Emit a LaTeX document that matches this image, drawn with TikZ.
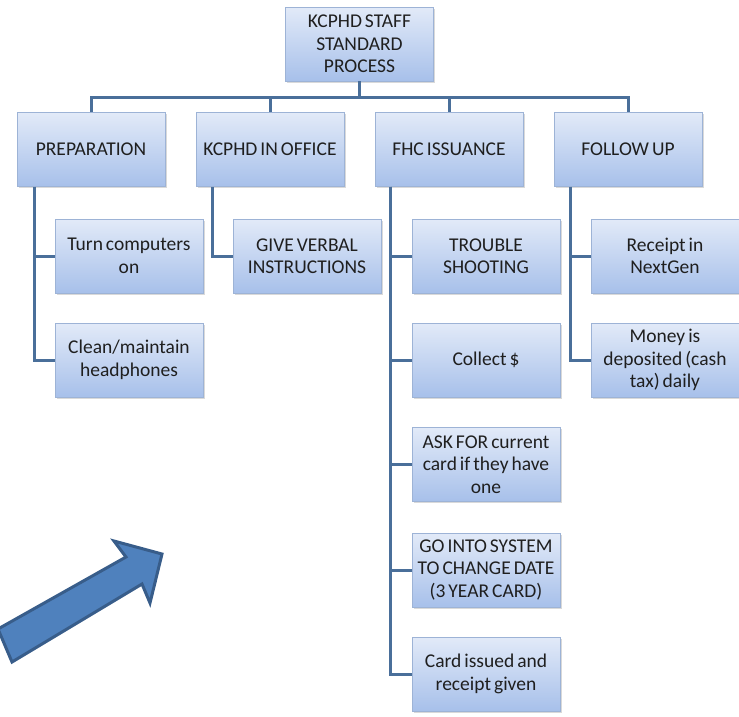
\documentclass[tikz,border=0pt]{standalone}
\usepackage{fontspec}
\setmainfont{Carlito}
\usetikzlibrary{shadows}
\newcommand{\myboxfont}{\fontsize{19.5}{22.5}\selectfont\spaceskip=3pt plus 1pt minus 0.5pt\relax\xspaceskip=3pt plus 1pt\relax}
\definecolor{boxtop}{HTML}{E2EAF8}
\definecolor{boxbot}{HTML}{A7C0EA}
\definecolor{boxline}{HTML}{9DB3D6}
\definecolor{conn}{HTML}{4A6F9A}
\definecolor{arrfill}{HTML}{4F81BD}
\definecolor{arrline}{HTML}{385D8A}
\definecolor{txt}{HTML}{1F1F1F}
\tikzset{
  box/.style={rectangle, draw=boxline, line width=0.8pt, top color=boxtop, bottom color=boxbot,
    minimum width=148pt, minimum height=74pt, inner sep=1pt, align=center,
    text=txt, font=\myboxfont,
    drop shadow={shadow xshift=1.5pt, shadow yshift=-1.5pt, opacity=0.25, fill=black!60}},
  conn/.style={draw=conn, line width=3pt},
}
\begin{document}
\begin{tikzpicture}[x=1pt,y=-1pt]
\useasboundingbox (0,0) rectangle (739,716);
% top
\node[box] (top) at (359.5,44) {KCPHD STAFF\\STANDARD\\PROCESS};
% level 2
\node[box] (prep) at (91,149.5) {PREPARATION};
\node[box] (office) at (270,149.5) {KCPHD IN OFFICE};
\node[box] (fhc) at (449,149.5) {FHC ISSUANCE};
\node[box] (follow) at (628,149.5) {FOLLOW UP};
% children
\node[box] (p1) at (129,256) {Turn computers\\on};
\node[box] (p2) at (129,360) {Clean/maintain\\headphones};
\node[box] (o1) at (307,256) {GIVE VERBAL\\INSTRUCTIONS};
\node[box] (f1) at (486,256) {TROUBLE\\SHOOTING};
\node[box] (f2) at (486,360) {Collect \$};
\node[box] (f3) at (486,464.5) {ASK FOR current\\card if they have\\one};
\node[box] (f4) at (486,570) {GO INTO SYSTEM\\TO CHANGE DATE\\(3 YEAR CARD)};
\node[box] (f5) at (486,674) {Card issued and\\receipt given};
\node[box] (u1) at (665,256) {Receipt in\\NextGen};
\node[box] (u2) at (665,360) {Money is\\deposited (cash\\tax) daily};
% connectors
\coordinate (bus) at (359.5,97);
\draw[conn] (top.south) -- (bus);
\draw[conn] (bus) -| (prep.north);
\draw[conn] (bus) -| (office.north);
\draw[conn] (bus) -| (fhc.north);
\draw[conn] (bus) -| (follow.north);
\draw[conn] ([xshift=-57pt]prep.south) |- (p1.west);
\draw[conn] ([xshift=-57pt]prep.south) |- (p2.west);
\draw[conn] ([xshift=-58pt]office.south) |- (o1.west);
\draw[conn] ([xshift=-59pt]fhc.south) |- (f1.west);
\draw[conn] ([xshift=-59pt]fhc.south) |- (f2.west);
\draw[conn] ([xshift=-59pt]fhc.south) |- (f3.west);
\draw[conn] ([xshift=-59pt]fhc.south) |- (f4.west);
\draw[conn] ([xshift=-59pt]fhc.south) |- (f5.west);
\draw[conn] ([xshift=-58pt]follow.south) |- (u1.west);
\draw[conn] ([xshift=-58pt]follow.south) |- (u2.west);
% block arrow
\draw[fill=arrfill, draw=arrline, line width=3pt, line join=miter]
  (-2,629) -- (126,557) -- (114,541) -- (162,554) -- (150,603) -- (142,584) -- (12,662) -- cycle;
\end{tikzpicture}
\end{document}
